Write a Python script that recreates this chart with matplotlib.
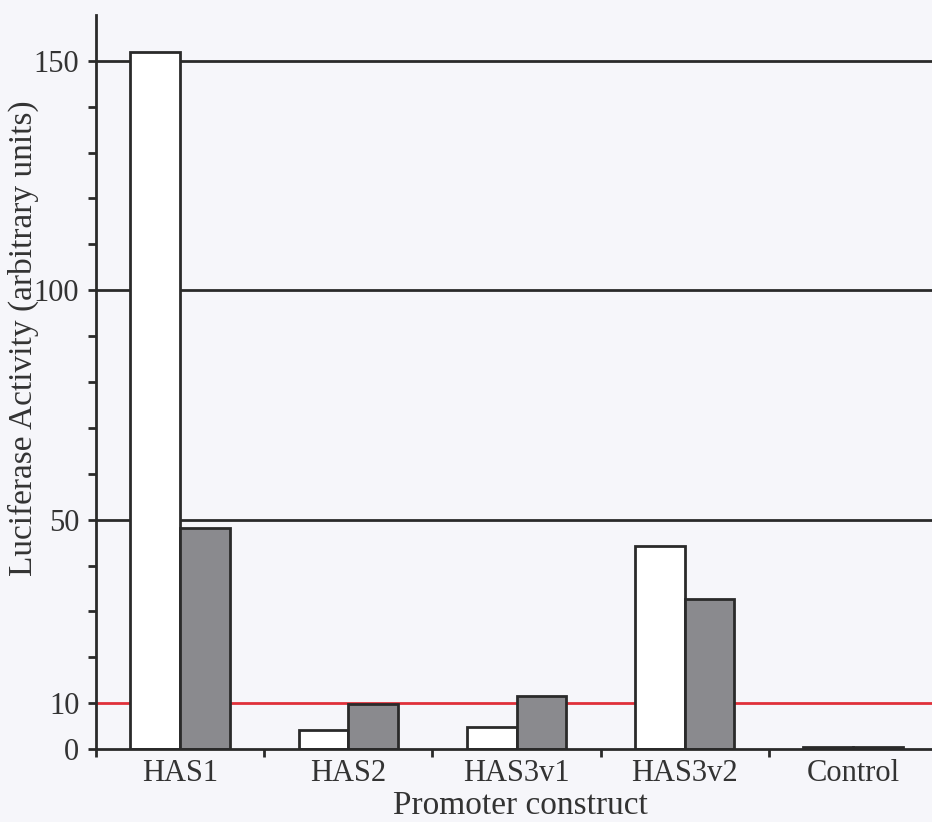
import matplotlib
matplotlib.use("Agg")
import matplotlib.pyplot as plt
import numpy as np

categories = ["HAS1", "HAS2", "HAS3v1", "HAS3v2", "Control"]
white_vals = [152, 4.1, 4.8, 44.3, 0.5]
grey_vals = [48.2, 9.8, 11.5, 32.7, 0.5]
grid_levels = [50, 100, 150]
threshold = 10

plt.rcParams['font.family'] = ['Liberation Serif', 'DejaVu Serif']
bg = '#f6f6fa'
txt = '#333333'

fig = plt.figure(figsize=(9.32, 8.22), dpi=100, facecolor=bg)
W, H = 932, 822
ax = fig.add_axes([96 / W, (H - 749) / H, (932 - 96) / W, (749 - 15) / H], facecolor=bg)

x = np.arange(len(categories))
w = 0.295
for lvl in grid_levels:
    ax.axhline(lvl, color='#2a2a2a', lw=2, zorder=1)
ax.axhline(threshold, color='#e0303a', lw=2, zorder=1)

ax.bar(x - w / 2, white_vals, w, color='white', edgecolor='#2a2a2a', lw=2, zorder=2)
ax.bar(x + w / 2, grey_vals, w, color='#8a8a8e', edgecolor='#2a2a2a', lw=2, zorder=2)

ax.set_xlim(-0.5, 4.47)
ax.set_ylim(0, 160)
ax.set_yticks([0, 10, 50, 100, 150])
ax.set_yticks(np.arange(0, 160, 10), minor=True)
ax.set_xticks(x)
ax.set_xticklabels(categories)
ax.set_xticks(np.arange(-0.5, 4.5, 1), minor=True)
ax.tick_params(axis='x', which='major', length=0, labelsize=22, pad=7, colors=txt)
ax.tick_params(axis='x', which='minor', length=6, width=2, color='#2a2a2a')
ax.tick_params(axis='y', which='both', length=6, width=2, color='#2a2a2a', labelsize=22,
               labelcolor=txt, pad=6)
for s in ['top', 'right']:
    ax.spines[s].set_visible(False)
for s in ['left', 'bottom']:
    ax.spines[s].set_linewidth(2)
    ax.spines[s].set_color('#2a2a2a')

fig.text(23 / W, 1 - 338 / H, "Luciferase Activity (arbitrary units)", rotation=90,
         ha='center', va='center', fontsize=24, color=txt)
fig.text(520 / W, 1 - 806 / H, "Promoter construct", ha='center', va='center',
         fontsize=24, color=txt)

fig.savefig("out.png", dpi=100, facecolor=bg)
